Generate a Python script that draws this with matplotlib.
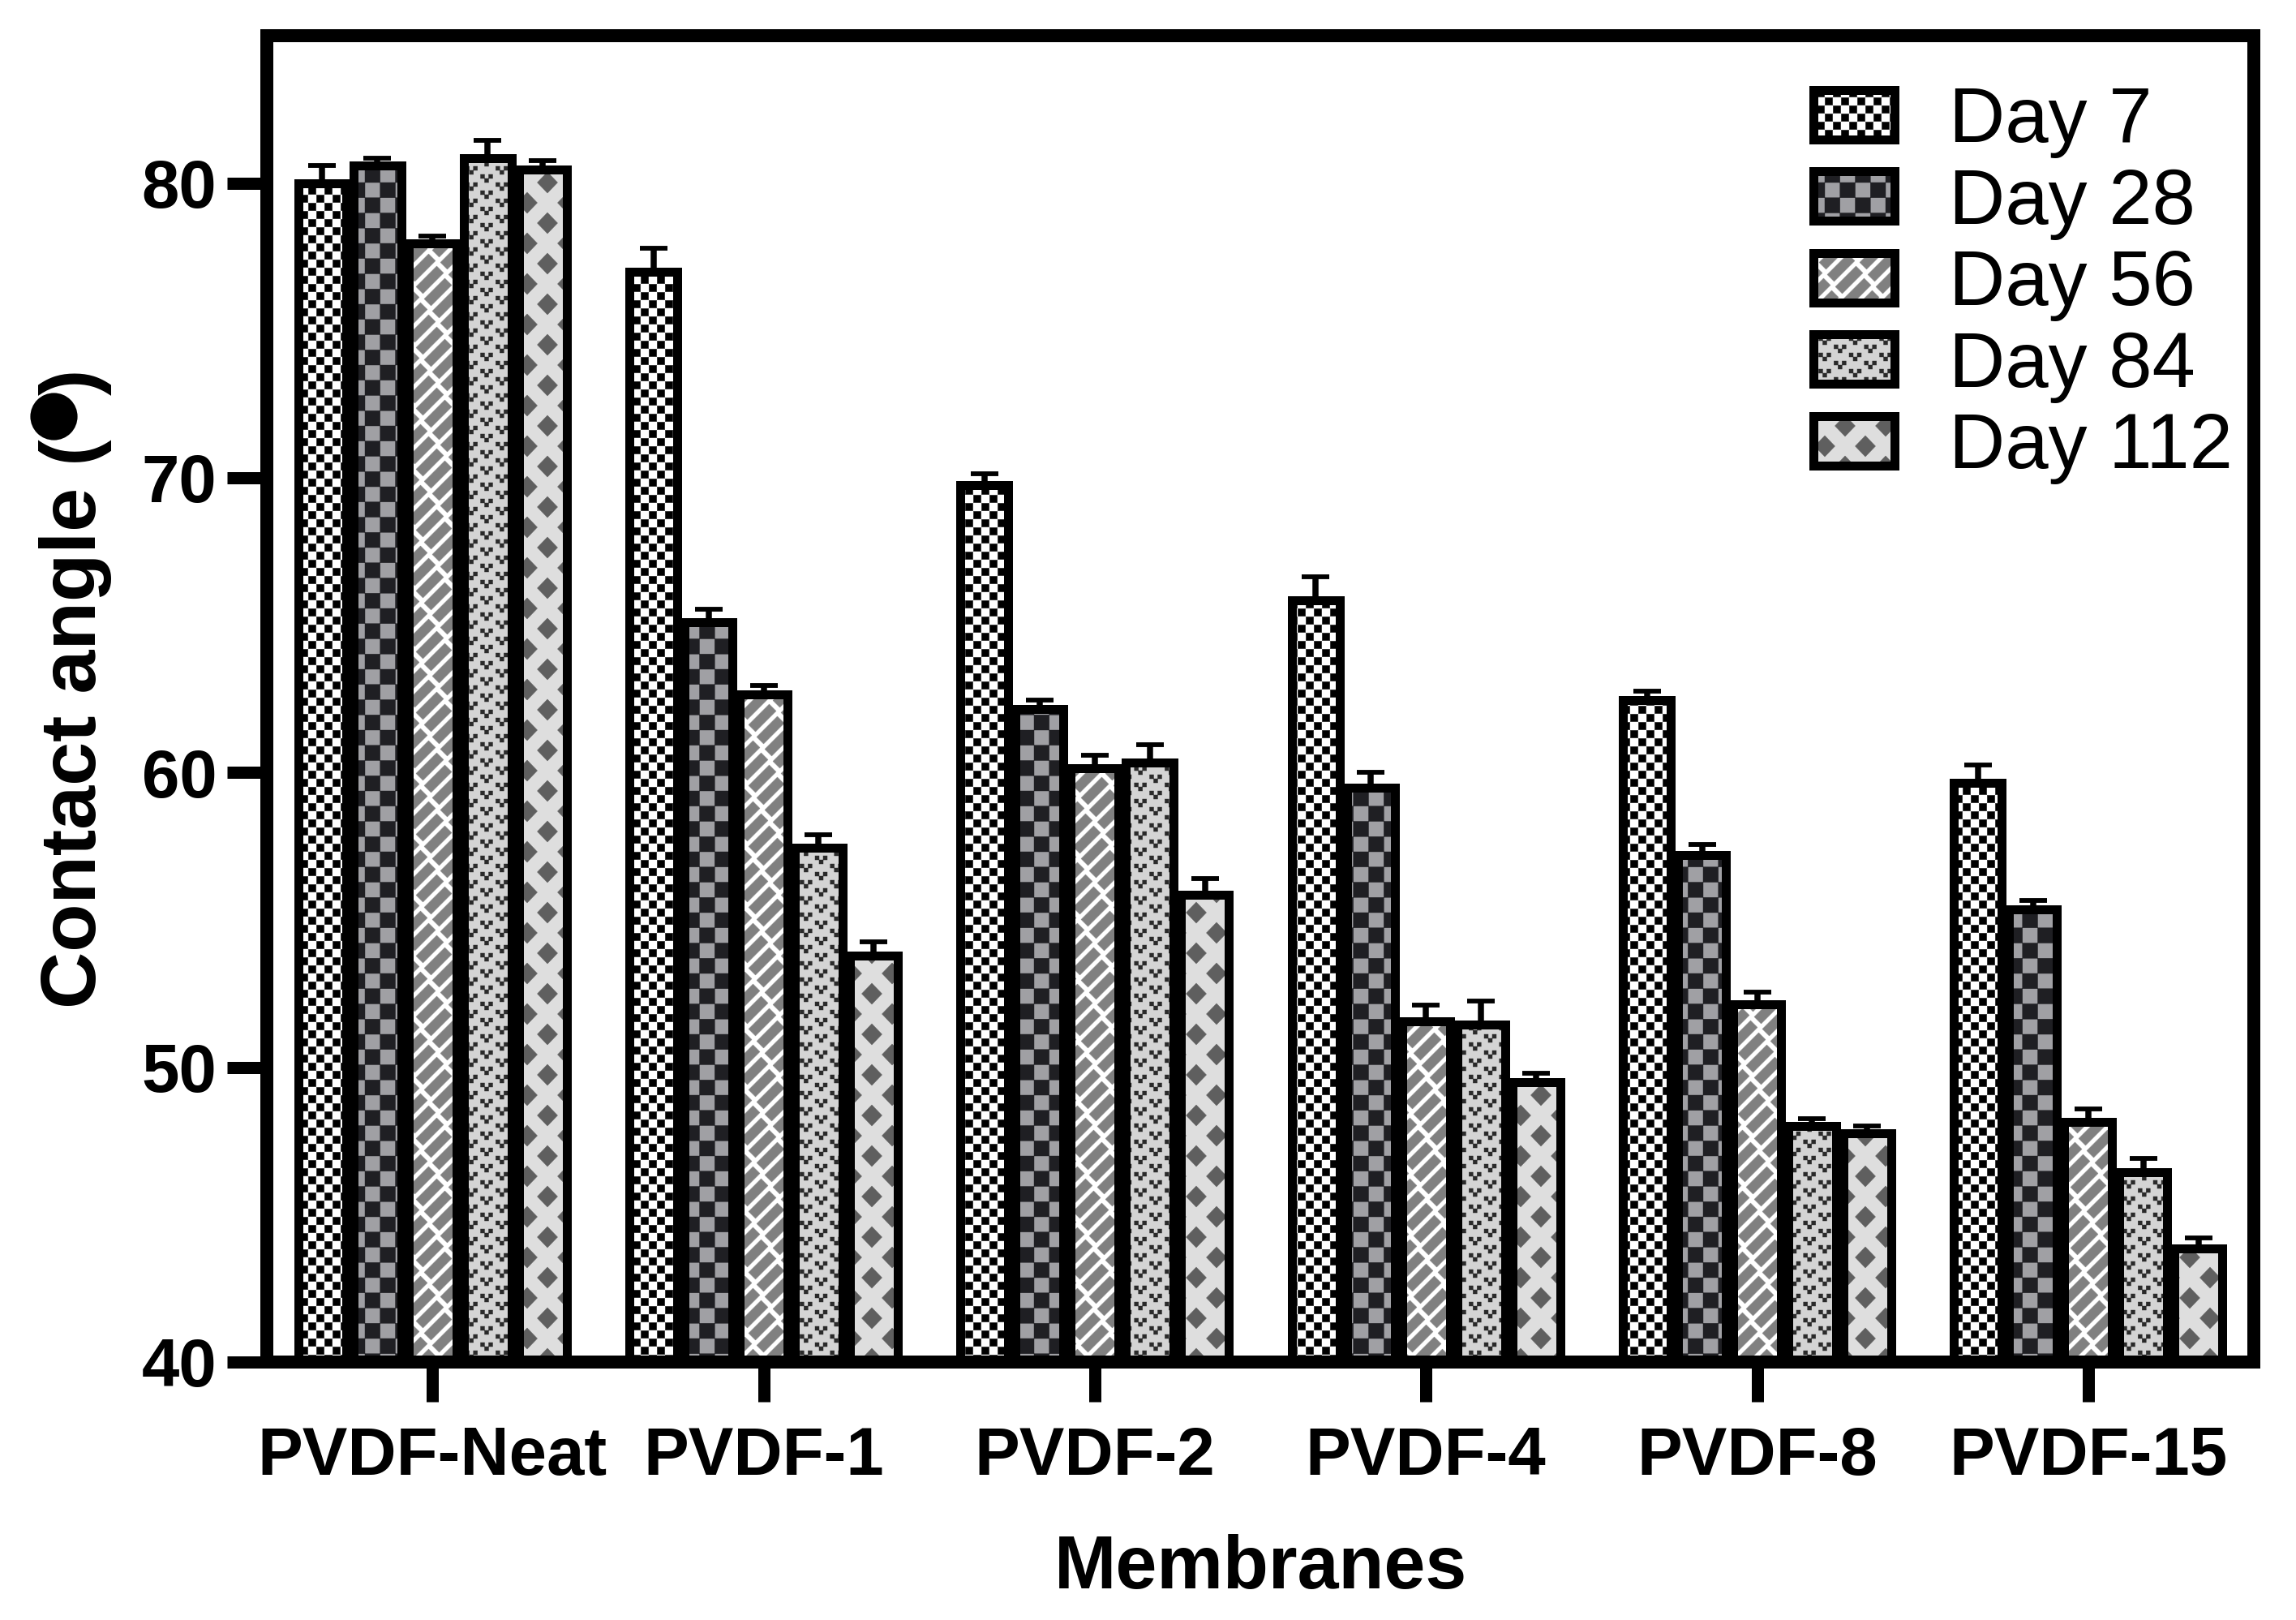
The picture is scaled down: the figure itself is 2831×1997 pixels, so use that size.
import numpy as np
import matplotlib
matplotlib.use('Agg')
import matplotlib.pyplot as plt
import matplotlib.hatch as mhatch
from matplotlib.path import Path
from matplotlib.patches import Patch
from matplotlib.lines import Line2D
from matplotlib.legend_handler import HandlerTuple
from matplotlib.transforms import IdentityTransform
import warnings
warnings.filterwarnings('ignore')

plt.rcParams['font.family'] = ['Liberation Sans', 'DejaVu Sans']
plt.rcParams['hatch.linewidth'] = 0.1

# data (contact angle, degrees)
membranes = ['PVDF-Neat', 'PVDF-1', 'PVDF-2', 'PVDF-4', 'PVDF-8', 'PVDF-15']
days = ['Day 7', 'Day 28', 'Day 56', 'Day 84', 'Day 112']
day7 = [80.0, 77.0, 69.75, 65.85, 62.45, 59.65]
day7_err = [0.6, 0.8, 0.4, 0.8, 0.3, 0.6]
day28 = [80.6, 65.1, 62.15, 59.5, 57.2, 55.35]
day28_err = [0.25, 0.45, 0.3, 0.5, 0.35, 0.3]
day56 = [77.95, 62.65, 60.15, 51.55, 52.15, 48.15]
day56_err = [0.25, 0.3, 0.45, 0.55, 0.4, 0.45]
day84 = [80.85, 57.45, 60.35, 51.45, 48.0, 46.45]
day84_err = [0.6, 0.45, 0.6, 0.8, 0.25, 0.45]
day112 = [80.45, 53.8, 55.85, 49.5, 47.75, 43.85]
day112_err = [0.3, 0.45, 0.55, 0.3, 0.25, 0.35]

series = [day7, day28, day56, day84, day112]
errors = [day7_err, day28_err, day56_err, day84_err, day112_err]

# fill styles: face colour, pattern colour, pattern code
faces = ['white', '#a0a0a4', 'white', '#d4d4d4', '#dedede']
pat_cols = ['black', '#1f1f23', '#808080', '#2a2a2a', '#5f5f5f']
pat_codes = ['c', 'k', 'b', 'v', 'd']


#custom raster-like fill patterns (unit square = 1 inch tile)
def rect(cx, cy, w, h):
    return [(cx - w/2, cy - h/2), (cx + w/2, cy - h/2), (cx + w/2, cy + h/2), (cx - w/2, cy + h/2)]


def checker(n, frac):
    c = 1.0 / n
    out = []
    for i in range(-1, n + 1):
        for j in range(-1, n + 1):
            if (i + j) % 2 == 0:
                out.append(rect((i + 0.5)*c, (j + 0.5)*c, c*frac, c*frac))
    return out


def bricks(p, s, thick, blen):
    e = np.array([1, 1]) / np.sqrt(2)
    nrm = np.array([-1, 1]) / np.sqrt(2)
    v1 = np.array([s, s])
    v2 = np.array([p + s/2, s/2])
    base = [-blen/2*e - thick/2*nrm, blen/2*e - thick/2*nrm,
            blen/2*e + thick/2*nrm, -blen/2*e + thick/2*nrm]
    out = []
    for i in range(-40, 40):
        for j in range(-20, 20):
            c = i*v1 + j*v2
            if -0.15 < c[0] < 1.15 and -0.15 < c[1] < 1.15:
                out.append([tuple(c + b) for b in base])
    return out


def vmarks():
    px = 1/300
    out = []
    for k in range(-1, 18):
        for r in range(-1, 17):
            cx = k/16
            cy = (r + 0.5*(k % 2))/15
            out.append(rect(cx - 5*px, cy + 2.5*px, 5*px, 5*px))
            out.append(rect(cx + 5*px, cy + 2.5*px, 5*px, 5*px))
            out.append(rect(cx, cy - 2.5*px, 5*px, 5*px))
    return out


def diamonds():
    px = 1/300
    hw, hh = 12.5*px, 13*px
    out = []
    for k in range(-1, 8):
        for r in range(-1, 8):
            for cx, cy in [(k/6, r/6), (k/6 + 1/12, r/6 + 1/12)]:
                out.append([(cx - hw, cy), (cx, cy - hh), (cx + hw, cy), (cx, cy + hh)])
    return out


PATTERNS = {
    'c': checker(30, 0.92),
    'k': checker(16, 1.0),
    'b': bricks(1/12, 1/10, 12/300, 36/300),
    'v': vmarks(),
    'd': diamonds(),
}


class TileHatch(mhatch.HatchPatternBase):
    def __init__(self, hatch, density):
        self.polys = []
        for ch, polys in PATTERNS.items():
            if ch in hatch:
                self.polys = polys
        self.num_vertices = sum(len(q) + 1 for q in self.polys)

    def set_vertices_and_codes(self, vertices, codes):
        i = 0
        for q in self.polys:
            n = len(q)
            vertices[i:i + n] = q
            vertices[i + n] = q[0]
            codes[i] = Path.MOVETO
            codes[i + 1:i + n] = Path.LINETO
            codes[i + n] = Path.CLOSEPOLY
            i += n + 1


mhatch._hatch_types.append(TileHatch)

#figure
fig = plt.figure(figsize=(2831/300, 1997/300), dpi=300)
ax = fig.add_axes([329/2831, 1 - 1679/1997, 2450/2831, 1635/1997])

x = np.arange(len(membranes))
step = 0.1665
width = 0.1445
edge_lw = 2.64

for i, (vals, errs) in enumerate(zip(series, errors)):
    pos = x + (i - 2)*step
    ax.bar(pos, vals, width, bottom=0, color=faces[i], edgecolor=pat_cols[i],
           hatch=pat_codes[i], linewidth=0, zorder=2)
    ax.bar(pos, vals, width, fill=False, edgecolor='black', linewidth=edge_lw, zorder=3)
    ax.errorbar(pos, vals, yerr=[np.zeros(len(vals)), errs], fmt='none', ecolor='black',
                elinewidth=1.8, capsize=4.1, capthick=1.4, zorder=4)

ax.set_xlim(-0.5, 5.5)
ax.set_ylim(40, 85)
ax.set_yticks([40, 50, 60, 70, 80])
ax.set_xticks(x)
ax.set_xticklabels(membranes)

for sp in ax.spines.values():
    sp.set_linewidth(3.84)
ax.tick_params(axis='both', direction='out', length=11.8, width=3.6, labelsize=20, pad=3)
ax.tick_params(axis='x', pad=7)
for lab in ax.get_xticklabels() + ax.get_yticklabels():
    lab.set_fontweight('bold')

ax.set_xlabel('Membranes', fontsize=22, fontweight='bold')
ax.xaxis.set_label_coords(0.5, -0.1297)

# y label: text + big filled dot + closing bracket (pixel placement)
ident = IdentityTransform()
y_base_x = 118
y_start = 754
t1 = fig.text(y_base_x, y_start, 'Contact angle (', rotation=90, rotation_mode='anchor',
              ha='left', va='baseline', fontsize=23.3, fontweight='bold', transform=ident)
fig.canvas.draw()
ext = t1.get_window_extent(fig.canvas.get_renderer())
dot_d = 54
dot_y = ext.y1 + dot_d/2 + 1
fig.add_artist(Line2D([66], [dot_y], marker='o', markersize=dot_d*72/300, color='black',
                      linestyle='none', transform=ident))
fig.text(y_base_x, ext.y1 + dot_d, ')', rotation=90, rotation_mode='anchor',
         ha='left', va='baseline', fontsize=23.3, fontweight='bold', transform=ident)

handles = []
for i in range(len(days)):
    h1 = Patch(facecolor=faces[i], edgecolor=pat_cols[i], hatch=pat_codes[i], linewidth=0)
    h2 = Patch(facecolor='none', edgecolor='black', linewidth=edge_lw)
    handles.append((h1, h2))
fig.legend(handles, days, loc='upper left', bbox_to_anchor=(2236/2831, 1 - 105/1997),
           bbox_transform=fig.transFigure, frameon=False, fontsize=23,
           handlelength=1.04, handleheight=0.6, handletextpad=0.7, labelspacing=0.11,
           borderpad=0, borderaxespad=0, handler_map={tuple: HandlerTuple(ndivide=1)})

fig.savefig('out.png', dpi=300)
